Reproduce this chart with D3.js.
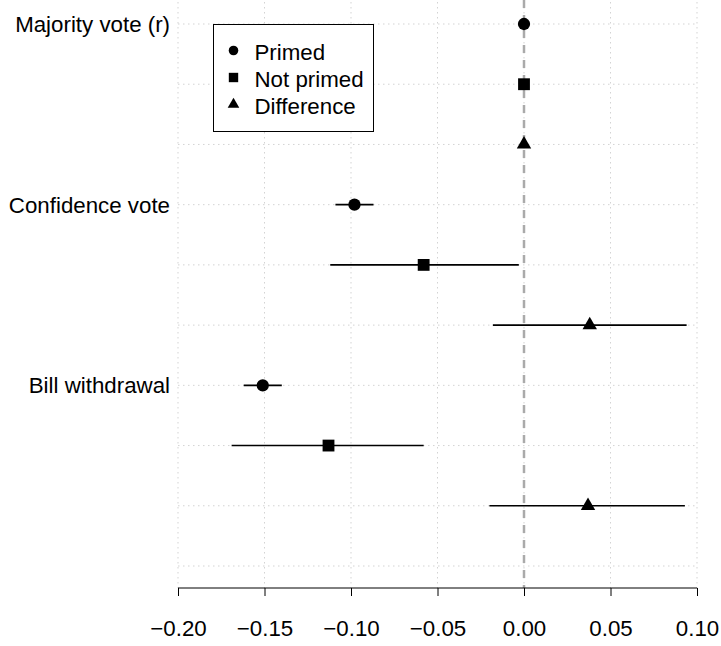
<!DOCTYPE html>
<html>
<head>
<meta charset="utf-8">
<script src="https://cdn.jsdelivr.net/npm/d3@7"></script>
<style>
  body { margin: 0; background: #fff; }
  svg { display: block; font-family: "Liberation Sans", Arial, sans-serif; }
</style>
</head>
<body>
<svg id="chart" width="721" height="646"></svg>
<script>
// outcome groups (one label per group, three rows each)
const categories = ["Majority vote (r)", "Confidence vote", "Bill withdrawal"];
const series = ["Primed", "Not primed", "Difference"];

// point estimates, per category, in series order
const estimates = [
  [0, 0, 0],
  [-0.098, -0.058, 0.038],
  [-0.151, -0.113, 0.037]
];
// lower / upper bounds of the intervals
const lower = [
  [0, 0, 0],
  [-0.109, -0.112, -0.018],
  [-0.162, -0.169, -0.020]
];
const upper = [
  [0, 0, 0],
  [-0.087, -0.003, 0.094],
  [-0.140, -0.058, 0.093]
];

const xTicks = [-0.20, -0.15, -0.10, -0.05, 0.00, 0.05, 0.10];
const nRows = 10;
const fontSize = "22.3px";

// flatten into rows (row 1 = top)
const rows = [];
categories.forEach((c, i) => {
  series.forEach((s, j) => {
    rows.push({
      row: i * 3 + j + 1,
      cat: c,
      series: s,
      est: estimates[i][j],
      lo: lower[i][j],
      hi: upper[i][j]
    });
  });
});

const svg = d3.select("#chart");

const x = d3.scaleLinear().domain([-0.2, 0.1]).range([178, 697]);
const y = d3.scaleLinear().domain([1, nRows]).range([24, 566]);

const plotTop = 2, plotBottom = 588;

const shape = d3.scaleOrdinal()
  .domain(series)
  .range([d3.symbolCircle, d3.symbolSquare, d3.symbolTriangle]);
const bigSize = { "Primed": 118, "Not primed": 140, "Difference": 90 };
const smallSize = { "Primed": 72, "Not primed": 88, "Difference": 58 };

const grid = svg.append("g").attr("class", "grid");

// vertical dotted grid lines at ticks
grid.selectAll(".vgrid")
  .data(xTicks)
  .enter()
  .append("line")
  .attr("x1", (d) => x(d))
  .attr("x2", (d) => x(d))
  .attr("y1", plotTop)
  .attr("y2", plotBottom)
  .attr("stroke", "#d3d3d3")
  .attr("stroke-width", 1)
  .attr("stroke-dasharray", "1.5,3.5");

// horizontal dotted grid lines at every row
grid.selectAll(".hgrid")
  .data(d3.range(1, nRows + 1))
  .enter()
  .append("line")
  .attr("x1", x(-0.2))
  .attr("x2", x(0.1))
  .attr("y1", (d) => y(d))
  .attr("y2", (d) => y(d))
  .attr("stroke", "#d3d3d3")
  .attr("stroke-width", 1)
  .attr("stroke-dasharray", "1.5,3.5");

// zero reference line
svg.append("line")
  .attr("x1", x(0))
  .attr("x2", x(0))
  .attr("y1", 0)
  .attr("y2", plotBottom)
  .attr("stroke", "#aaaaaa")
  .attr("stroke-width", 2.5)
  .attr("stroke-dasharray", "8,7");

// x axis
const xAxis = d3.axisBottom(x)
  .tickValues(xTicks)
  .tickSize(8)
  .tickPadding(24)
  .tickFormat((d) => d3.format(".2f")(d).replace("-", "\u2212"));

const ax = svg.append("g")
  .attr("transform", "translate(0," + plotBottom + ")")
  .call(xAxis);
ax.select(".domain").attr("stroke", "#000").attr("d", "M" + x(-0.2) + ",0H" + x(0.1));
ax.selectAll(".tick line").attr("stroke", "#000");
ax.selectAll(".tick text")
  .attr("fill", "#000")
  .style("font-size", fontSize)
  .style("font-family", "'Liberation Sans', Arial, sans-serif");

// category labels
svg.selectAll(".catlabel")
  .data(categories)
  .enter()
  .append("text")
  .attr("x", 170)
  .attr("y", (d, i) => y(i * 3 + 1))
  .attr("dy", "0.36em")
  .attr("text-anchor", "end")
  .style("font-size", fontSize)
  .attr("fill", "#000")
  .text((d) => d);

// interval segments
svg.selectAll(".ci")
  .data(rows.filter((d) => d.hi > d.lo))
  .enter()
  .append("line")
  .attr("x1", (d) => x(d.lo))
  .attr("x2", (d) => x(d.hi))
  .attr("y1", (d) => y(d.row))
  .attr("y2", (d) => y(d.row))
  .attr("stroke", "#000")
  .attr("stroke-width", 1.6);

// point markers
svg.selectAll(".pt")
  .data(rows)
  .enter()
  .append("path")
  .attr("transform", (d) => "translate(" + x(d.est) + "," + y(d.row) + ")")
  .attr("d", (d) => d3.symbol().type(shape(d.series)).size(bigSize[d.series])())
  .attr("fill", "#000");

// legend
const legend = svg.append("g").attr("transform", "translate(213.5,24.5)");
legend.append("rect")
  .attr("width", 160)
  .attr("height", 107)
  .attr("fill", "#fff")
  .attr("stroke", "#000")
  .attr("stroke-width", 1);

const item = legend.selectAll(".item")
  .data(series)
  .enter()
  .append("g")
  .attr("transform", (d, i) => "translate(0," + (26 + i * 27) + ")");

item.append("path")
  .attr("transform", "translate(20,0)")
  .attr("d", (d) => d3.symbol().type(shape(d)).size(smallSize[d])())
  .attr("fill", "#000");

item.append("text")
  .attr("x", 41)
  .attr("y", 1.5)
  .attr("dy", "0.36em")
  .style("font-size", fontSize)
  .attr("fill", "#000")
  .text((d) => d);
</script>
</body>
</html>
